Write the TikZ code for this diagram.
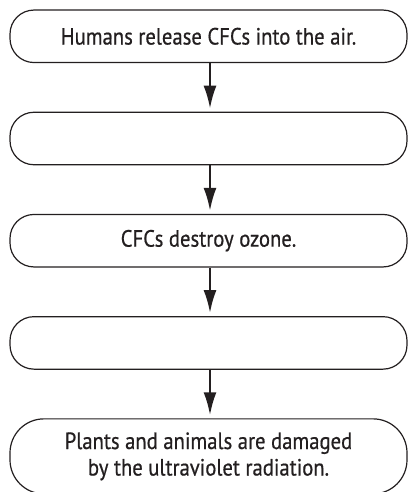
\documentclass[tikz,border=0pt]{standalone}
\usepackage{fontspec}
\setmainfont{PT Sans}[FakeStretch=0.88, FakeBold=0.6]
\usepackage{xcolor}
\usepackage{tikz}
\usetikzlibrary{arrows.meta, positioning}
\definecolor{fcInk}{RGB}{35,31,32}

\begin{document}
\begin{tikzpicture}[
    font=\fontsize{23.5pt}{26.5pt}\selectfont, x=1pt, y=1pt,
    node distance=48.5pt,
    stepbox/.style={draw=fcInk, line width=1.2pt, rounded corners=24pt,
                    minimum width=397pt, minimum height=52.5pt,
                    align=center, inner sep=0pt, text=fcInk},
    flow/.style={draw=fcInk, line width=2.4pt,
                 -{Latex[length=23pt, width=13pt]}, shorten >=3pt}
]
\useasboundingbox (0,0) rectangle (408,-492);
% Boxes, top to bottom
\node[stepbox] (release) at (208.5,-36.3) {Humans release CFCs into the air.};
\node[stepbox, below=of release] (rise) {};
\node[stepbox, below=of rise] (destroy) {CFCs destroy ozone.};
\node[stepbox, below=of destroy] (thin) {};
\node[stepbox, below=of thin, minimum height=75pt, rounded corners=34pt] (damage)
     {Plants and animals are damaged\\by the ultraviolet radiation.};

% Arrows
\foreach \a/\b in {release/rise, rise/destroy, destroy/thin, thin/damage} {
   \draw[flow] ([xshift=1.5pt]\a.south) -- ([xshift=1.5pt]\b.north);
}
\end{tikzpicture}
\end{document}
